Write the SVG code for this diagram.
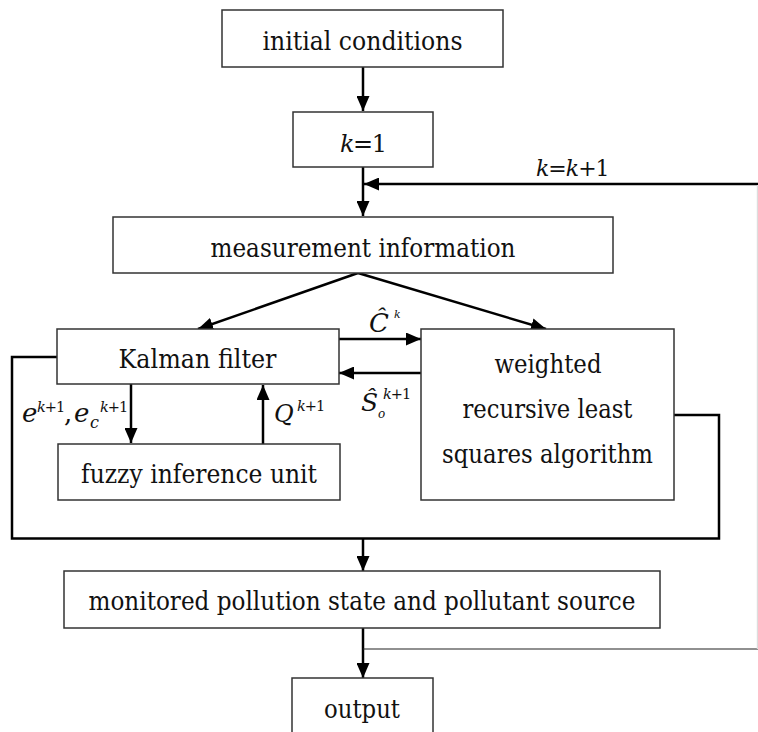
<svg xmlns="http://www.w3.org/2000/svg" width="758" height="732" viewBox="0 0 758 732">
<defs>
<style>
.box{fill:#fff;stroke:#333;stroke-width:1.5}
text{font-family:'DejaVu Serif','Liberation Serif',serif;fill:#111}
.t{font-size:25.5px;text-anchor:middle}
.i{font-style:italic}
.sup{font-size:14.5px;letter-spacing:-1px}
.c{fill:none;stroke:#000;stroke-width:2.5}
.thin{fill:none;stroke:#222;stroke-width:1.2}
.faint{fill:none;stroke:#ddd;stroke-width:1.2}
</style>
<marker id="ah" viewBox="0 0 15 13" refX="15" refY="6.5" markerWidth="15" markerHeight="13" markerUnits="userSpaceOnUse" orient="auto">
<path d="M0,0 L15,6.5 L0,13 Z" fill="#000"/>
</marker>
</defs>
<rect width="758" height="732" fill="#fff"/>

<g id="connectors">
<line class="c" x1="363" y1="67" x2="363" y2="111" marker-end="url(#ah)"/>
<line class="c" x1="363" y1="167" x2="363" y2="216" marker-end="url(#ah)"/>
<line class="c" x1="758" y1="184" x2="364" y2="184" marker-end="url(#ah)"/>
<line class="c" x1="358" y1="273" x2="198" y2="329" marker-end="url(#ah)"/>
<line class="c" x1="358" y1="273" x2="546" y2="329" marker-end="url(#ah)"/>
<line class="c" x1="339" y1="339" x2="421" y2="339" marker-end="url(#ah)"/>
<line class="c" x1="421" y1="373" x2="339" y2="373" marker-end="url(#ah)"/>
<line class="c" x1="131" y1="384" x2="131" y2="443" marker-end="url(#ah)"/>
<line class="c" x1="263" y1="444" x2="263" y2="385" marker-end="url(#ah)"/>
<polyline class="c" points="57,357 12,357 12,538.5 719,538.5 719,415 674,415"/>
<line class="c" x1="363" y1="538.5" x2="363" y2="571" marker-end="url(#ah)"/>
<line class="c" x1="363" y1="628" x2="363" y2="678" marker-end="url(#ah)"/>
<polyline class="thin" points="363,649 758,649"/>
<line class="faint" x1="757.4" y1="185" x2="757.4" y2="649"/>
</g>

<g id="n-initial">
<rect class="box" x="222" y="10" width="281" height="57"/>
<text class="t" x="362.5" y="50" textLength="200" lengthAdjust="spacingAndGlyphs">initial conditions</text>
</g>
<g id="n-k1">
<rect class="box" x="293" y="112" width="140" height="55"/>
<text x="340" y="152" font-size="24" letter-spacing="-1.5"><tspan class="i">k</tspan>=1</text>
</g>
<g id="n-measure">
<rect class="box" x="113" y="217" width="500" height="56"/>
<text class="t" x="363" y="257" textLength="305" lengthAdjust="spacingAndGlyphs">measurement information</text>
</g>
<g id="n-kalman">
<rect class="box" x="57" y="329" width="282" height="55"/>
<text class="t" x="197.5" y="368" textLength="158" lengthAdjust="spacingAndGlyphs">Kalman filter</text>
</g>
<g id="n-fuzzy">
<rect class="box" x="58" y="444" width="282" height="56"/>
<text class="t" x="199" y="483" textLength="236" lengthAdjust="spacingAndGlyphs">fuzzy inference unit</text>
</g>
<g id="n-wrls">
<rect class="box" x="421" y="329" width="253" height="171"/>
<text class="t" x="548" y="373" textLength="107" lengthAdjust="spacingAndGlyphs">weighted</text>
<text class="t" x="547.5" y="418" textLength="170" lengthAdjust="spacingAndGlyphs">recursive least</text>
<text class="t" x="547.5" y="463" textLength="211" lengthAdjust="spacingAndGlyphs">squares algorithm</text>
</g>
<g id="n-monitored">
<rect class="box" x="64" y="571" width="596" height="57"/>
<text class="t" x="362" y="610" textLength="547" lengthAdjust="spacingAndGlyphs">monitored pollution state and pollutant source</text>
</g>
<g id="n-output">
<rect class="box" x="292" y="678" width="141" height="60"/>
<text class="t" x="362" y="718" textLength="76" lengthAdjust="spacingAndGlyphs">output</text>
</g>

<g id="labels">
<text x="536" y="176" font-size="22" letter-spacing="-1"><tspan class="i">k</tspan>=<tspan class="i">k</tspan>+1</text>
<text><tspan class="i" x="369" y="332" font-size="26">Ĉ</tspan><tspan class="i" x="394" y="318" font-size="11">k</tspan></text>
<text><tspan class="i" x="361" y="411" font-size="25">Ŝ</tspan><tspan class="sup" x="383" y="399"><tspan class="i">k</tspan>+1</tspan><tspan class="i" x="378" y="418" font-size="12">o</tspan></text>
<text><tspan class="i" x="22" y="422" font-size="26">e</tspan><tspan class="sup" x="37" y="412"><tspan class="i">k</tspan>+1</tspan><tspan x="64" y="422" font-size="26">,</tspan><tspan class="i" x="74" y="422" font-size="26">e</tspan><tspan class="i" x="90" y="428" font-size="16">c</tspan><tspan class="sup" x="100" y="412"><tspan class="i">k</tspan>+1</tspan></text>
<text><tspan class="i" x="274" y="422" font-size="24">Q</tspan><tspan class="sup" x="297" y="411"><tspan class="i">k</tspan>+1</tspan></text>
</g>
</svg>
